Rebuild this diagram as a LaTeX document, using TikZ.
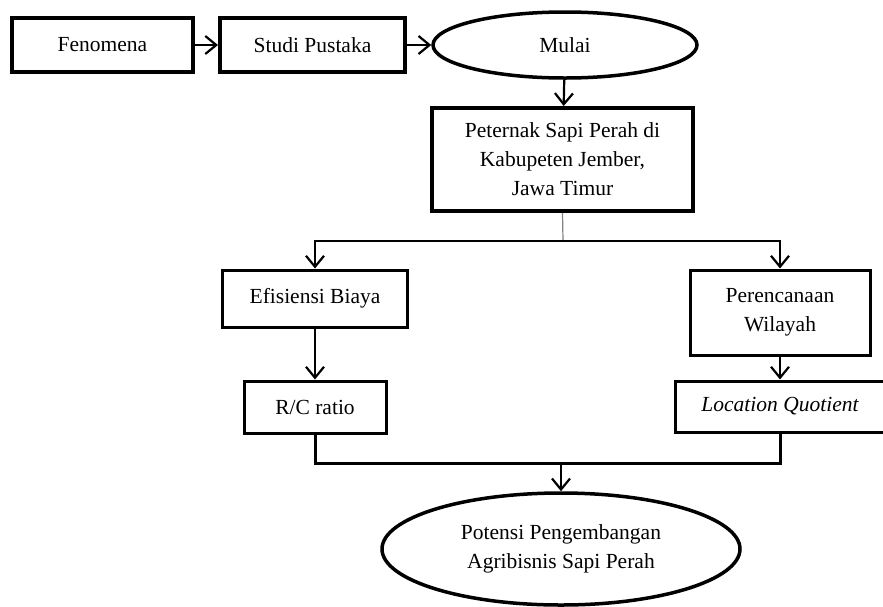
\documentclass[tikz,border=0pt]{standalone}
\usepackage{fontspec}
\setmainfont{Liberation Serif}
\usepackage{tikz}
\usetikzlibrary{shapes.geometric,arrows.meta}
\tikzstyle{kotaktebal} = [rectangle, draw=black, line width=4pt, line cap=round, inner sep=0pt, align=center]
\tikzstyle{kotak} = [rectangle, draw=black, line width=3pt, inner sep=0pt, align=center]
\tikzstyle{elips} = [ellipse, draw=black, line width=3.5pt, inner sep=0pt, align=center]
\tikzstyle{panah} = [line width=2.2pt, -{Straight Barb[length=11pt,width=18pt,line width=2.2pt]}]

\begin{document}
\begin{tikzpicture}[x=1pt, y=-1pt, font=\fontsize{21.5}{29}\selectfont]

        \useasboundingbox (0,0) rectangle (883,606);

        \node (fenomena) [kotaktebal, minimum width=181pt, minimum height=54pt] at (102.5,45) {Fenomena};
        \node (studi) [kotaktebal, minimum width=185pt, minimum height=54pt] at (312.5,45) {Studi Pustaka};
        \node (mulai) [elips, minimum width=264pt, minimum height=66pt] at (565,45) {Mulai};
        \node (peternak) [kotaktebal, minimum width=261pt, minimum height=103pt] at (562.5,159.5) {Peternak Sapi Perah di\\Kabupeten Jember,\\Jawa Timur};

        \node (efisiensi) [kotak, minimum width=185pt, minimum height=57pt] at (315,298.5) {Efisiensi Biaya};
        \node (perencanaan) [kotak, minimum width=180pt, minimum height=85pt] at (780,312.5) {Perencanaan\\Wilayah};
        \node (rc) [kotak, minimum width=142pt, minimum height=52pt] at (315,407) {R/C ratio};
        \node (lq) [kotak, minimum width=210pt, minimum height=51pt] at (780,406.5) {\itshape Location Quotient};

        \node (potensi) [elips, minimum width=358pt, minimum height=112pt] at (561,549) {Potensi Pengembangan\\Agribisnis Sapi Perah};

        \coordinate (cabang) at (563,241);
        \coordinate (gabung) at (561,463);

        \draw[panah] (fenomena) -- (studi);
        \draw[panah] (studi) -- (mulai);
        \draw[panah] (mulai) -- (peternak);

        \draw[gray, line width=1.2pt] (peternak.south) -- (cabang);
        \draw[panah, line width=1.5pt] (cabang) -| (efisiensi.north);
        \draw[panah, line width=1.5pt] (cabang) -| (perencanaan.north);

        \draw[panah] (efisiensi) -- (rc);
        \draw[panah] (perencanaan) -- (lq);

        \draw[line width=3pt] (rc.south) |- (gabung) -| (lq.south);
        \draw[panah, line width=1.5pt] (gabung) -- (potensi.north);

    \end{tikzpicture}
\end{document}
